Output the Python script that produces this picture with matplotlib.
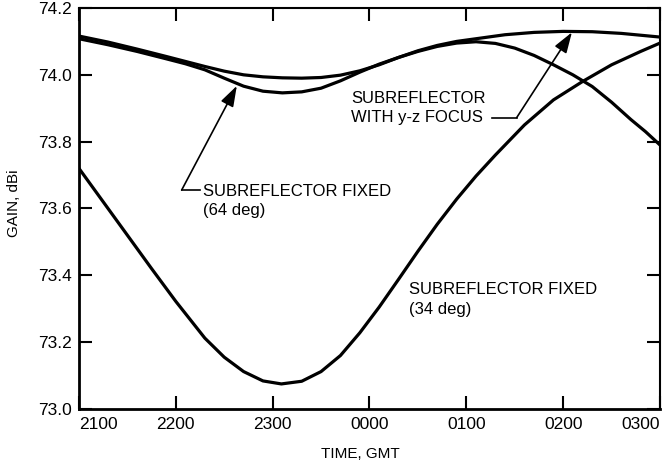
import matplotlib
matplotlib.use("Agg")
import matplotlib.pyplot as plt
import numpy as np
from matplotlib.ticker import FormatStrFormatter

plt.rcParams['font.family'] = ['Liberation Sans', 'DejaVu Sans']

#===============================================================================
#                                Data
#===============================================================================

# time axis in hours after 2100 GMT
tick_hours  = [0, 1, 2, 3, 4, 5, 6]
tick_labels = ["2100", "2200", "2300", "0000", "0100", "0200", "0300"]

# subreflector fixed at 34 deg
t_34    = [0.00, 0.25, 0.50, 0.75, 1.00, 1.30, 1.50, 1.70, 1.90, 2.09, 2.30, 2.50,
           2.70, 2.90, 3.10, 3.30, 3.50, 3.70, 3.90, 4.10, 4.30, 4.60, 4.90, 5.20,
           5.50, 5.80, 6.00]
gain_34 = [73.72, 73.62, 73.52, 73.42, 73.322, 73.212, 73.155, 73.112, 73.084, 73.075,
           73.083, 73.112, 73.16, 73.228, 73.305, 73.388, 73.472, 73.553, 73.628,
           73.697, 73.76, 73.85, 73.925, 73.98, 74.03, 74.07, 74.095]

# subreflector fixed at 64 deg
t_64    = [0.00, 0.30, 0.60, 0.90, 1.10, 1.30, 1.50, 1.70, 1.90, 2.10, 2.30, 2.50,
           2.70, 2.90, 3.10, 3.30, 3.50, 3.70, 3.90, 4.10, 4.30, 4.50, 4.70, 4.90,
           5.10, 5.30, 5.50, 5.70, 5.85, 6.00]
gain_64 = [74.108, 74.09, 74.07, 74.048, 74.033, 74.015, 73.99, 73.966, 73.951, 73.946,
           73.949, 73.96, 73.982, 74.008, 74.032, 74.052, 74.07, 74.085, 74.095, 74.099,
           74.094, 74.08, 74.058, 74.03, 74.0, 73.965, 73.918, 73.866, 73.83, 73.79]

# subreflector with y-z focus
t_yz    = [0.00, 0.30, 0.60, 0.90, 1.10, 1.30, 1.50, 1.70, 1.90, 2.10, 2.30, 2.50,
           2.70, 2.90, 3.10, 3.30, 3.50, 3.70, 3.90, 4.10, 4.40, 4.70, 5.00, 5.30,
           5.60, 6.00]
gain_yz = [74.116, 74.098, 74.077, 74.055, 74.04, 74.025, 74.011, 74.0, 73.994, 73.991,
           73.99, 73.992, 73.999, 74.012, 74.03, 74.052, 74.072, 74.088, 74.1, 74.108,
           74.12, 74.127, 74.13, 74.129, 74.124, 74.113]

#====================================================
#                     Plot
#====================================================

fig = plt.figure( figsize=(6.62, 4.70), dpi=100 )
ax  = fig.add_axes( [0.1193, 0.1298, 0.8777, 0.8532] )

ax.plot( t_34, gain_34, color="black", linewidth=2.3, solid_joinstyle="round" )
ax.plot( t_64, gain_64, color="black", linewidth=2.3, solid_joinstyle="round" )
ax.plot( t_yz, gain_yz, color="black", linewidth=2.3, solid_joinstyle="round" )

ax.set_xlim( 0, 6 )
ax.set_ylim( 73.0, 74.2 )
ax.set_xticks( tick_hours )
ax.set_xticklabels( tick_labels )
ax.set_yticks( np.arange(73.0, 74.21, 0.2) )
ax.yaxis.set_major_formatter( FormatStrFormatter('%.1f') )

ax.tick_params( direction="in", length=9.5, width=1.5, labelsize=12.5, pad=5,
                top=True, right=True, colors="black" )
ax.tick_params( axis="x", pad=6 )
lab = ax.get_xticklabels()
lab[0].set_horizontalalignment("left")
lab[-1].set_horizontalalignment("right")

for side in ["left", "bottom"]:
    ax.spines[side].set_linewidth(2.0)
for side in ["top", "right"]:
    ax.spines[side].set_linewidth(1.5)

ax.set_xlabel( "TIME, GMT", fontsize=11 )
ax.set_ylabel( "GAIN, dBi", fontsize=11 )
ax.xaxis.set_label_coords( 0.485, -0.095 )
ax.yaxis.set_label_coords( -0.10, 0.514 )

# annotations
arrow = dict( arrowstyle="-|>,head_length=0.9,head_width=0.3", color="black",
              linewidth=1.2, shrinkA=0, shrinkB=0, mutation_scale=14 )

ax.plot( [1.06, 1.25], [73.655, 73.655], color="black", linewidth=1.2 )
ax.annotate( "", xy=(1.63, 73.967), xytext=(1.06, 73.655), arrowprops=arrow )
ax.text( 1.28, 73.652, "SUBREFLECTOR FIXED", fontsize=12, ha="left", va="center" )
ax.text( 1.28, 73.593, "(64 deg)", fontsize=12, ha="left", va="center" )

ax.plot( [4.27, 4.52], [73.872, 73.872], color="black", linewidth=1.2 )
ax.annotate( "", xy=(5.09, 74.127), xytext=(4.52, 73.872), arrowprops=arrow )
ax.text( 2.81, 73.928, "SUBREFLECTOR", fontsize=12, ha="left", va="center" )
ax.text( 2.81, 73.872, "WITH y-z FOCUS", fontsize=12, ha="left", va="center" )

ax.text( 3.41, 73.358, "SUBREFLECTOR FIXED", fontsize=12, ha="left", va="center" )
ax.text( 3.41, 73.298, "(34 deg)", fontsize=12, ha="left", va="center" )

plt.savefig( "out.png", dpi=100 )
plt.close(fig)
